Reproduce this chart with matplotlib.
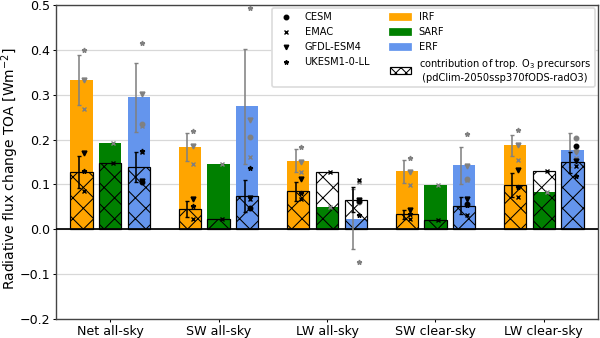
import matplotlib.pyplot as plt
import numpy as np
from matplotlib.lines import Line2D
from matplotlib.patches import Patch

nan = np.nan

# categories on the x axis
categories = ['Net all-sky', 'SW all-sky', 'LW all-sky', 'SW clear-sky', 'LW clear-sky']

# multi-model mean, total change
irf_total = [0.333, 0.184, 0.153, 0.129, 0.187]
sarf_total = [0.193, 0.145, 0.049, 0.099, 0.083]
erf_total = [0.294, 0.274, 0.023, 0.143, 0.177]
# multi-model mean, contribution of trop. O3 precursors
irf_o3 = [0.128, 0.046, 0.085, 0.033, 0.098]
sarf_o3 = [0.147, 0.023, 0.127, 0.021, 0.130]
erf_o3 = [0.139, 0.074, 0.066, 0.053, 0.149]

# standard deviations
irf_total_sd = [0.055, 0.031, 0.025, 0.025, 0.023]
erf_total_sd = [0.077, 0.128, 0.066, 0.041, 0.038]
irf_o3_sd = [0.035, 0.018, 0.021, 0.010, 0.027]
erf_o3_sd = [0.034, 0.036, 0.028, 0.019, 0.024]

# single models (total)
irf_tot_models = {
    'CESM': [nan, nan, nan, nan, nan],
    'EMAC': [0.269, 0.145, 0.127, 0.099, 0.154],
    'GFDL-ESM4': [0.332, 0.186, 0.150, 0.128, 0.187],
    'UKESM1-0-LL': [0.399, 0.219, 0.184, 0.159, 0.221],
}
sarf_tot_models = {
    'CESM': [nan, nan, nan, nan, nan],
    'EMAC': [0.193, 0.145, 0.049, 0.099, 0.083],
    'GFDL-ESM4': [nan, nan, nan, nan, nan],
    'UKESM1-0-LL': [nan, nan, nan, nan, nan],
}
erf_tot_models = {
    'CESM': [0.234, 0.206, 0.060, 0.112, 0.204],
    'EMAC': [0.231, 0.162, 0.105, 0.110, 0.158],
    'GFDL-ESM4': [0.302, 0.243, 0.062, 0.141, 0.172],
    'UKESM1-0-LL': [0.416, 0.493, -0.074, 0.212, 0.175],
}
# single models (O3 precursor contribution)
irf_o3_models = {
    'CESM': [nan, nan, nan, nan, nan],
    'EMAC': [0.086, 0.023, 0.068, 0.023, 0.071],
    'GFDL-ESM4': [0.170, 0.068, 0.112, 0.044, 0.133],
    'UKESM1-0-LL': [0.130, 0.053, 0.082, 0.035, 0.094],
}
sarf_o3_models = {
    'CESM': [nan, nan, nan, nan, nan],
    'EMAC': [0.147, 0.023, 0.127, 0.021, 0.130],
    'GFDL-ESM4': [nan, nan, nan, nan, nan],
    'UKESM1-0-LL': [nan, nan, nan, nan, nan],
}
erf_o3_models = {
    'CESM': [0.105, 0.047, 0.063, 0.057, 0.186],
    'EMAC': [0.173, 0.068, 0.110, 0.031, 0.140],
    'GFDL-ESM4': [0.108, 0.070, 0.065, 0.068, 0.153],
    'UKESM1-0-LL': [0.175, 0.136, 0.031, 0.055, 0.118],
}

markers = {'CESM': 'o', 'EMAC': 'x', 'GFDL-ESM4': 'v', 'UKESM1-0-LL': '*'}
colors = ['orange', 'green', 'cornflowerblue']

plt.rcParams['hatch.linewidth'] = 0.6

fig = plt.figure(figsize=(4.8, 2.704), dpi=125)
ax = fig.add_axes([0.0933, 0.0562, 0.9034, 0.929])

x = np.arange(len(categories))
offsets = [-0.265, 0.0, 0.265]
width = 0.205

totals = [irf_total, sarf_total, erf_total]
o3s = [irf_o3, sarf_o3, erf_o3]
tot_sd = [irf_total_sd, None, erf_total_sd]
o3_sd = [irf_o3_sd, None, erf_o3_sd]
tot_models = [irf_tot_models, sarf_tot_models, erf_tot_models]
o3_models = [irf_o3_models, sarf_o3_models, erf_o3_models]

ax.set_axisbelow(True)
ax.yaxis.grid(True, color='#d8d8d8', lw=0.7)

for i in range(3):
    xp = x + offsets[i]
    ax.bar(xp, totals[i], width, color=colors[i], zorder=2)
    ax.bar(xp, o3s[i], width, facecolor='none', edgecolor='black',
           hatch='xx', lw=0.7, zorder=3)
    if tot_sd[i] is not None:
        ax.errorbar(xp - 0.025, totals[i], yerr=tot_sd[i], fmt='none',
                    ecolor='grey', elinewidth=0.9, capsize=1.2, capthick=0.8, zorder=4)
        ax.errorbar(xp - 0.025, o3s[i], yerr=o3_sd[i], fmt='none',
                    ecolor='black', elinewidth=0.9, capsize=1.2, capthick=0.8, zorder=5)
    for m in markers:
        ms = 2.8 if markers[m] != 'o' else 2.6
        ax.plot(xp + 0.028, tot_models[i][m], ls='none', marker=markers[m],
                color='grey', ms=ms, mew=0.8, zorder=6)
        ax.plot(xp + 0.028, o3_models[i][m], ls='none', marker=markers[m],
                color='black', ms=ms, mew=0.8, zorder=7)

ax.axhline(0, color='black', lw=1.0, zorder=3)
ax.set_xlim(-0.5, 4.5)
ax.set_ylim(-0.2, 0.5)
ax.set_xticks(x)
ax.set_xticklabels(categories)
ax.set_yticks(np.arange(-0.2, 0.51, 0.1))
ax.tick_params(labelsize=7.3, length=2, width=0.6, pad=1.5)
ax.tick_params(axis='y', pad=1.2)
ax.set_ylabel('Radiative flux change TOA [Wm$^{-2}$]', fontsize=8.0)
ax.yaxis.set_label_coords(-0.064, 0.48)
for s in ax.spines.values():
    s.set_color('#444444')
    s.set_linewidth(0.8)

handles = [Line2D([], [], ls='none', marker=markers[m], color='black', ms=2.6, mew=0.8)
           for m in markers]
labels = list(markers)
handles += [Patch(color=c) for c in colors]
labels += ['IRF', 'SARF', 'ERF']
handles.append(Patch(facecolor='white', edgecolor='black', hatch='xxxx', lw=0.7))
labels.append('contribution of trop. O$_3$ precursors\n (pdClim-2050ssp370fODS-radO3)')
ax.legend(handles, labels, ncol=2, loc='upper right', fontsize=5.7,
          borderaxespad=0.35, framealpha=1.0, edgecolor='#dddddd',
          handlelength=2.1, handleheight=0.6, columnspacing=2.0, labelspacing=0.5)

fig.savefig('out.png', dpi=125)
